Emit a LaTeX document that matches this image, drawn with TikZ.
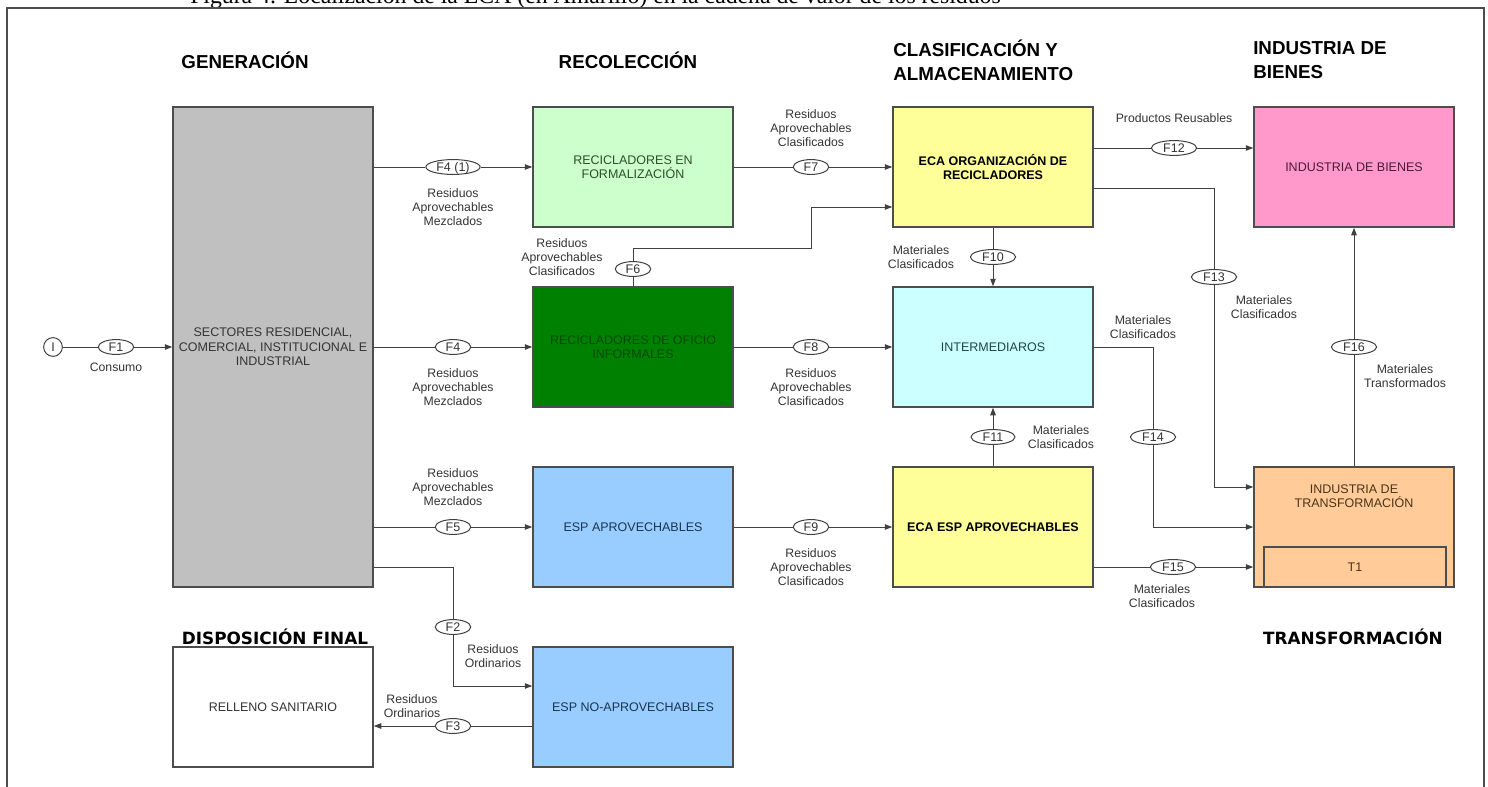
\documentclass[tikz,border=0pt]{standalone}
\usepackage{fontspec}
\setmainfont{Liberation Sans}
\newfontfamily\vfont{DejaVu Sans}
\newfontfamily\capfont{Liberation Serif}
\usetikzlibrary{shapes.geometric,arrows.meta}
\definecolor{gris}{HTML}{C0C0C0}
\definecolor{vclaro}{HTML}{CCFFCC}
\definecolor{voscuro}{HTML}{008000}
\definecolor{amar}{HTML}{FFFF99}
\definecolor{cian}{HTML}{CCFFFF}
\definecolor{azul}{HTML}{99CCFF}
\definecolor{rosa}{HTML}{FF99CC}
\definecolor{naranja}{HTML}{FFCC99}
\definecolor{bordec}{HTML}{4D4D4D}
\definecolor{linea}{HTML}{404040}
\definecolor{textog}{HTML}{333333}
\definecolor{textovc}{HTML}{2A502A}
\definecolor{textovo}{HTML}{004A00}
\definecolor{textoaz}{HTML}{1A3550}
\definecolor{textoci}{HTML}{1F4545}
\definecolor{textoro}{HTML}{4A1A33}
\definecolor{textona}{HTML}{4A3319}
\begin{document}
\begin{tikzpicture}[x=.8pt,y=-.8pt,>={Triangle[length=6pt,width=4.4pt]},
  font=\fontsize{10}{11.5}\selectfont,
  blk/.style={draw=bordec,line width=1.2pt,minimum width=160pt,minimum height=96pt,
    align=center,inner sep=1pt},
  flw/.style={ellipse,draw=linea,fill=white,line width=.8pt,inner xsep=4.2pt,
    inner ysep=.4pt,text height=7.3pt,text depth=.3pt,text=textog},
  con/.style={draw=linea,line width=.8pt},
  lbl/.style={align=center,text=textog,font=\fontsize{9.8}{11.5}\selectfont},
  hd/.style={font=\fontsize{15}{19}\selectfont\bfseries,align=left,inner sep=0pt},
  hdv/.style={font=\vfont\fontsize{13.5}{16}\selectfont\bfseries,inner sep=0pt}]
  % Image pixel grid: boxes sit on a 360 x 180 raster, y runs downward.
  \clip (0,0) rectangle (1488,787);
  \node[anchor=base west,inner sep=0pt,font=\capfont\fontsize{19}{22}\selectfont] (cap)
    at (190,4) {Figura 4. Localización de la ECA (en Amarillo) en la cadena de valor de los residuos};
  \draw[draw=bordec,line width=1.2pt] (7,800) -- (7,8) -- (1484,8) -- (1484,800);
  \node[hd] (hgen) at (245,60) {GENERACIÓN};
  \node[hd] (hrec) at (628,60) {RECOLECCIÓN};
  \node[hd,anchor=west] (hcla) at (893,60) {CLASIFICACIÓN Y\\ALMACENAMIENTO};
  \node[hd,anchor=west] (hind) at (1253,60) {INDUSTRIA DE\\BIENES};
  \node[hdv] (hdis) at (275,637) {DISPOSICIÓN FINAL};
  \node[hdv] (htra) at (1353,637) {TRANSFORMACIÓN};
  \node[blk,fill=gris,text=textog,minimum height=384pt] (gen) at (273,347)
    {SECTORES RESIDENCIAL,\\COMERCIAL, INSTITUCIONAL E\\INDUSTRIAL};
  \node[blk,fill=vclaro,text=textovc] (form) at (633,167) {RECICLADORES EN\\FORMALIZACIÓN};
  \node[blk,fill=voscuro,text=textovo] (ofic) at (633,347) {RECICLADORES DE OFICIO\\INFORMALES};
  \node[blk,fill=azul,text=textoaz] (espa) at (633,527) {ESP APROVECHABLES};
  \node[blk,fill=azul,text=textoaz] (espn) at (633,707) {ESP NO-APROVECHABLES};
  \node[blk,fill=white,text=textog] (rell) at (273,707) {RELLENO SANITARIO};
  \node[blk,fill=amar,font=\fontsize{10}{11.5}\selectfont\bfseries] (ecao) at (993,167)
    {ECA ORGANIZACIÓN DE\\RECICLADORES};
  \node[blk,fill=cian,text=textoci] (inter) at (993,347) {INTERMEDIAROS};
  \node[blk,fill=amar,font=\fontsize{10}{11.5}\selectfont\bfseries] (ecae) at (993,527)
    {ECA ESP APROVECHABLES};
  \node[blk,fill=rosa,text=textoro] (bien) at (1354,167) {INDUSTRIA DE BIENES};
  \node[blk,fill=naranja] (trans) at (1354,527) {};
  \node[align=center,text=textona] (transt) at (1354,496) {INDUSTRIA DE\\TRANSFORMACIÓN};
  \node[draw=bordec,line width=1pt,minimum width=145.6pt,minimum height=32pt,
    text=textona] (tuno) at (1355,567) {T1};
  \node[draw=linea,fill=white,circle,line width=.8pt,inner sep=0pt,minimum size=15pt,
    text=textog] (ini) at (53,347) {I};
  \foreach \n/\t/\p in {f1/F1/{116,347},f4/F4/{453,347},f5/F5/{453,527},
    f2/F2/{453,627},f3/F3/{453,726},f6/F6/{633,269},f7/F7/{811,167},
    f8/F8/{811,347},f9/F9/{811,527},f10/F10/{993,257},f11/F11/{993,437},
    f12/F12/{1174,148},f13/F13/{1214,277},f14/F14/{1153,437},
    f15/F15/{1173,567},f16/F16/{1354,347}}
    \node[flw] (\n) at (\p) {\t};
  \node[flw,inner xsep=2pt] (f41) at (453,167) {F4 (1)};
  \draw[con,->] (ini) -- (f1) -- (gen);
  \draw[con,->] (gen.east |- f41) -- (f41) -- (form);
  \draw[con,->] (gen) -- (f4) -- (ofic);
  \draw[con,->] (gen.east |- f5) -- (f5) -- (espa);
  \draw[con] ([yshift=16pt]gen.south east) -| (f2);
  \draw[con,->] (f2) |- ([yshift=16.8pt]espn.west);
  \draw[con,->] (espn.west |- f3) -- (f3) -- (rell.east |- f3);
  \draw[con] (ofic) -- (f6);
  \draw[con,->] (f6) -- ++(0,-21) -| ([yshift=-32pt]f7.center)
    -- ([yshift=-32pt]ecao.west);
  \draw[con,->] (form) -- (f7) -- (ecao);
  \draw[con,->] (ofic) -- (f8) -- (inter);
  \draw[con,->] (espa) -- (f9) -- (ecae);
  \draw[con,->] (ecao) -- (f10) -- (inter);
  \draw[con,->] (ecae) -- (f11) -- (inter);
  \draw[con,->] (ecao.east |- f12) -- (f12) -- (bien.west |- f12);
  \draw[con] ([yshift=-16.8pt]ecao.east) -| (f13);
  \draw[con,->] (f13) |- ([yshift=32pt]trans.west);
  \draw[con] (inter) -| (f14);
  \draw[con,->] (f14) |- (trans);
  \draw[con,->] (ecae.east |- f15) -- (f15) -- (trans.west |- f15);
  \draw[con,->] (trans) -- (f16) -- (bien);
  \node[lbl] (lcon) at (116,367) {Consumo};
  \node[lbl] (l41) at (453,207) {Residuos\\Aprovechables\\Mezclados};
  \node[lbl] (l4) at (453,387) {Residuos\\Aprovechables\\Mezclados};
  \node[lbl] (l5) at (453,487) {Residuos\\Aprovechables\\Mezclados};
  \node[lbl] (l7) at (811,128) {Residuos\\Aprovechables\\Clasificados};
  \node[lbl] (l6) at (562,257) {Residuos\\Aprovechables\\Clasificados};
  \node[lbl] (l8) at (811,387) {Residuos\\Aprovechables\\Clasificados};
  \node[lbl] (l9) at (811,567) {Residuos\\Aprovechables\\Clasificados};
  \node[lbl] (l10) at (921,257) {Materiales\\Clasificados};
  \node[lbl] (l11) at (1061,437) {Materiales\\Clasificados};
  \node[lbl] (l12) at (1174,118) {Productos Reusables};
  \node[lbl] (l13) at (1264,307) {Materiales\\Clasificados};
  \node[lbl] (l14) at (1143,327) {Materiales\\Clasificados};
  \node[lbl] (l16) at (1405,376) {Materiales\\Transformados};
  \node[lbl] (l15) at (1162,596) {Materiales\\Clasificados};
  \node[lbl] (l2) at (493,656) {Residuos\\Ordinarios};
  \node[lbl] (l3) at (412,706) {Residuos\\Ordinarios};
\end{tikzpicture}
\end{document}
